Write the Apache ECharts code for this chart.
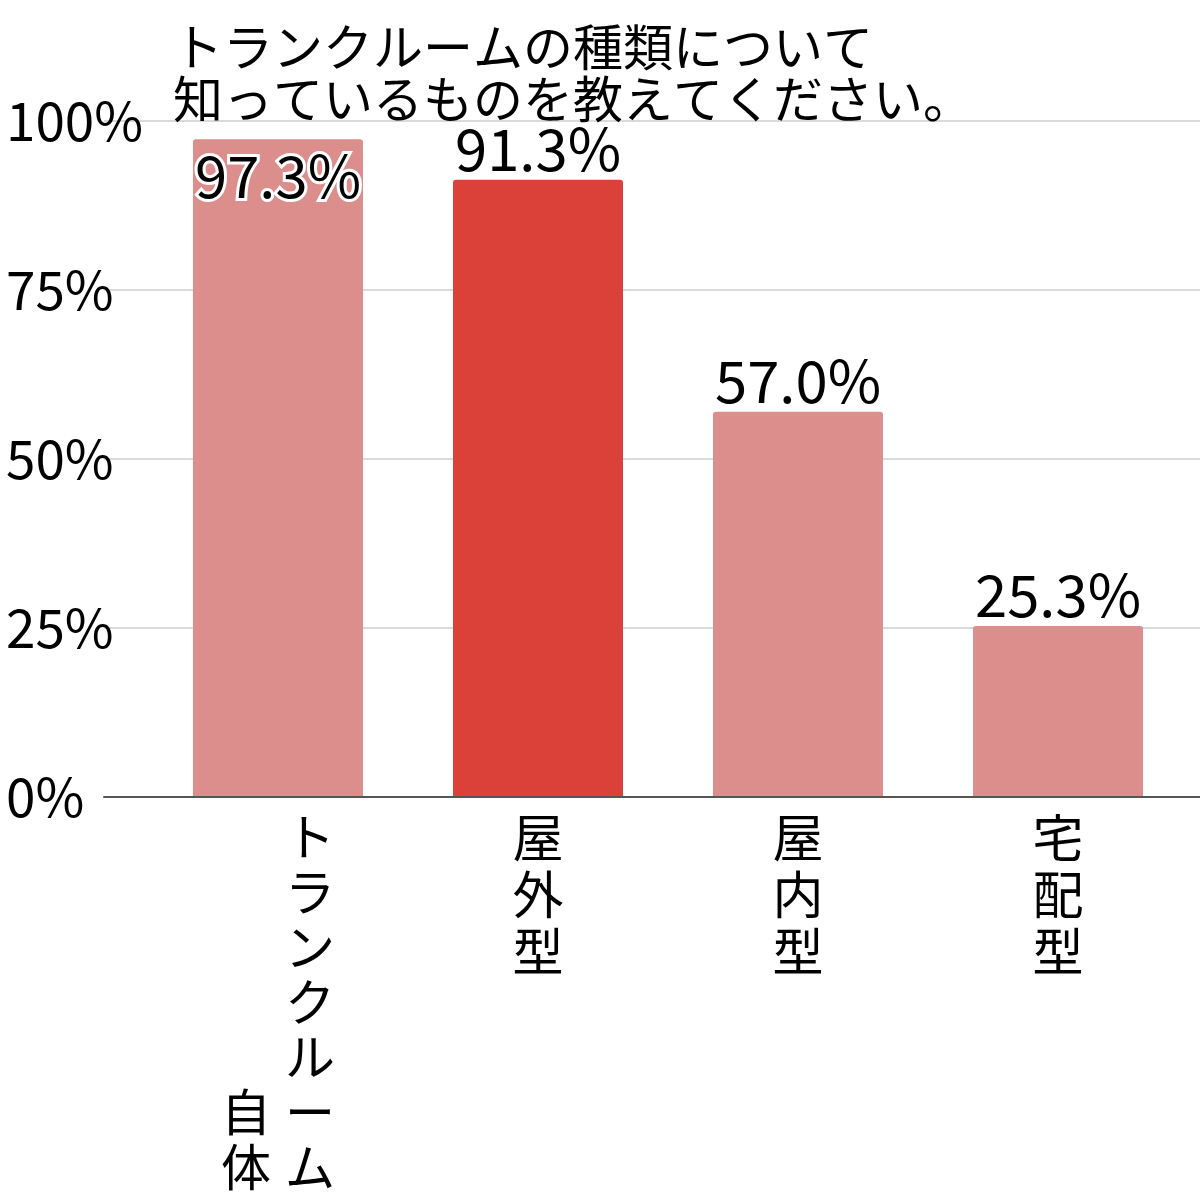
<!DOCTYPE html>
<html>
<head>
<meta charset="utf-8">
<script src="https://cdn.jsdelivr.net/npm/echarts@6/dist/echarts.min.js"></script>
<style>
html,body{margin:0;padding:0;background:#fff;}
#chart{width:1200px;height:1200px;}
</style>
</head>
<body>
<div id="chart"></div>
<script>
const titleLines = ['トランクルームの種類について', '知っているものを教えてください。'];
const categories = ['トランクルーム自体', '屋外型', '屋内型', '宅配型'];
const values = [97.3, 91.3, 57.0, 25.3];
const highlighted = '屋外型';
const yTicks = [0, 25, 50, 75, 100];

const FONT = '"Noto Sans CJK JP", "Noto Sans", sans-serif';
const PINK = '#DB8E8C';
const RED = '#DC4139';

function verticalLabel(name) {
  if (name.length <= 4) {
    return name.split('').map(c => '{c|' + c + '}').join('\n');
  }
  // two columns: right column first part, left column remainder (bottom aligned)
  const rightCol = name.slice(0, 7).split('');
  const leftCol = name.slice(7).split('');
  const offset = rightCol.length - leftCol.length;
  return rightCol.map((c, i) => {
    const l = i >= offset ? '{d|' + leftCol[i - offset] + '}' : '{sp|}';
    return l + '{gap|}' + '{d|' + c + '}';
  }).join('\n');
}

const chart = echarts.init(document.getElementById('chart'), null, {renderer: 'canvas'});
chart.setOption({
  animation: false,
  backgroundColor: '#fff',
  title: {
    text: titleLines.join('\n'),
    left: 168,
    top: 16,
    textStyle: {fontFamily: FONT, fontSize: 50, lineHeight: 52, fontWeight: 'normal', color: '#000'}
  },
  grid: [
    {left: 104, right: 0, top: 121, bottom: 403, outerBoundsMode: 'none', containLabel: false},
    {left: 148, right: 12, top: 121, bottom: 403, outerBoundsMode: 'none', containLabel: false}
  ],
  xAxis: [
    {
      gridIndex: 0, type: 'category', data: categories,
      axisLine: {show: true, lineStyle: {color: '#555', width: 2}},
      axisTick: {show: false}, axisLabel: {show: false}, splitLine: {show: false}, z: 5
    },
    {
      gridIndex: 1, type: 'category', data: categories,
      axisLine: {show: false}, axisTick: {show: false},
      axisLabel: {
        margin: 12,
        interval: 0,
        formatter: verticalLabel,
        rich: {
          c: {fontFamily: FONT, fontSize: 51, lineHeight: 57, color: '#000', align: 'center'},
          d: {fontFamily: FONT, fontSize: 50, lineHeight: 55, color: '#000', align: 'center'},
          sp: {width: 50, height: 55},
          gap: {width: 14}
        }
      }
    }
  ],
  yAxis: [
    {
      gridIndex: 0, type: 'value', min: 0, max: 100, interval: 25,
      axisLine: {show: false}, axisTick: {show: false},
      axisLabel: {
        formatter: v => yTicks.includes(v) ? v + '%' : '',
        align: 'left', margin: 98,
        fontFamily: FONT, fontSize: 53, color: '#000'
      },
      splitLine: {show: true, lineStyle: {color: '#dadada', width: 2}}
    },
    {
      gridIndex: 1, type: 'value', min: 0, max: 100, interval: 25,
      show: false, splitLine: {show: false}
    }
  ],
  series: [{
    type: 'bar',
    xAxisIndex: 1, yAxisIndex: 1,
    data: values.map((v, i) => ({
      value: v,
      itemStyle: {color: categories[i] === highlighted ? RED : PINK, borderRadius: [3, 3, 0, 0]},
      label: i === 0 ? {
        position: 'insideTop', distance: 8,
        textBorderColor: '#fff', textBorderWidth: 6
      } : {position: 'top', distance: 2}
    })),
    barWidth: 170,
    label: {
      show: true,
      formatter: p => p.value.toFixed(1) + '%',
      fontFamily: FONT, fontSize: 58, color: '#000'
    }
  }]
});
</script>
</body>
</html>
